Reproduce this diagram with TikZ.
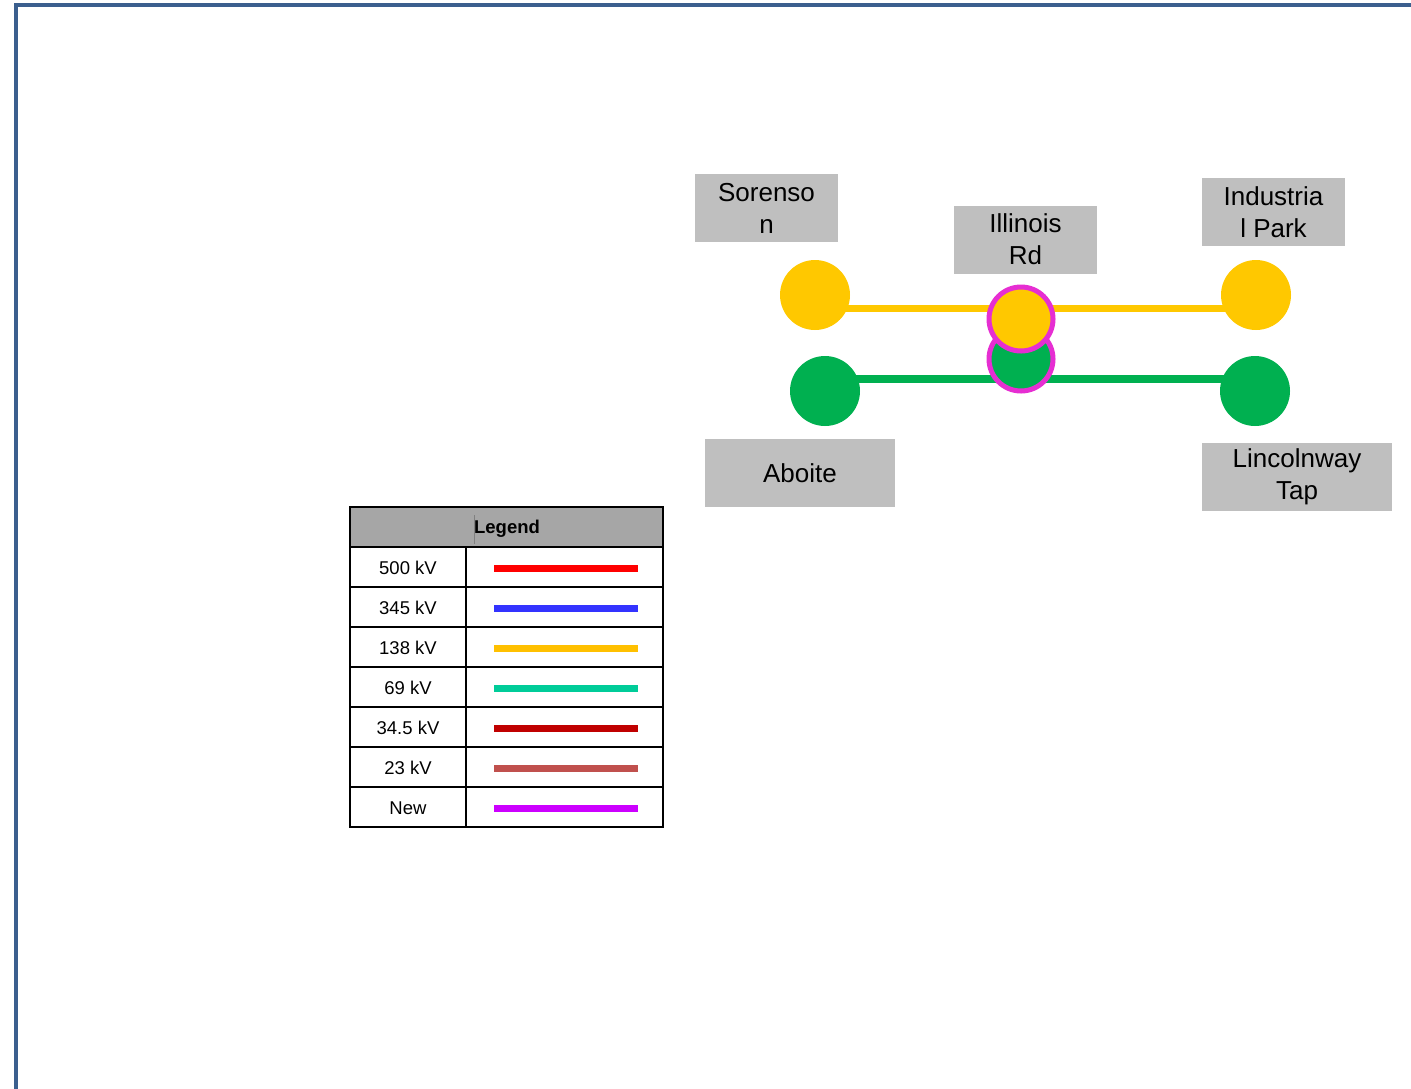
\documentclass[tikz,border=0pt]{standalone}
\usepackage{fontspec}
\setmainfont{Liberation Sans}
\usetikzlibrary{backgrounds}
\definecolor{frameblue}{HTML}{3B5F8E}
\definecolor{busyellow}{HTML}{FFC800}
\definecolor{busgreen}{HTML}{00B050}
\definecolor{newmag}{HTML}{E62ED2}
\definecolor{boxgray}{HTML}{BFBFBF}
\definecolor{headgray}{HTML}{A6A6A6}
\definecolor{kvA}{HTML}{FF0000}
\definecolor{kvB}{HTML}{3333FF}
\definecolor{kvC}{HTML}{FFC000}
\definecolor{kvD}{HTML}{00CC99}
\definecolor{kvE}{HTML}{C00000}
\definecolor{kvF}{HTML}{C0504D}
\definecolor{kvG}{HTML}{CC00FF}
\tikzset{
  sub/.style={circle, fill=#1, minimum size=70pt, inner sep=0pt},
  newsub/.style={circle, fill=#1, draw=newmag, line width=5pt, minimum size=64pt, inner sep=0pt},
  namebox/.style={fill=boxgray, minimum height=68pt, minimum width=143pt, inner sep=0pt,
    align=center, font=\fontsize{26}{32}\selectfont},
  feeder/.style={line width=7.5pt, #1},
  legtext/.style={font=\fontsize{18.5}{20}\selectfont, inner sep=0pt},
  legbar/.style={line width=7pt, #1},
}
\begin{document}
\begin{tikzpicture}[x=1pt,y=-1pt]
  \useasboundingbox (0,0) rectangle (1411,1088);
  % page frame
  \draw[frameblue, line width=4.5pt] (16,1095) -- (16,5) -- (1420,5);

  % substations
  \node[sub=busyellow] (sor) at (815,295) {};
  \node[sub=busyellow] (ind) at (1256,295) {};
  \node[sub=busgreen] (abo) at (825,391) {};
  \node[sub=busgreen] (lin) at (1255,391) {};
  \node[newsub=busgreen] (illG) at (1021,359) {};
  \node[newsub=busyellow] (illY) at (1021,319) {};

  % names
  \node[namebox] (sorName) at (766.5,208) {Sorenso\\n};
  \node[namebox] (illName) at (1025.5,239.5) {Illinois\\Rd};
  \node[namebox] (indName) at (1273.5,212) {Industria\\l Park};
  \node[namebox, minimum width=190pt] (aboName) at (800,473) {Aboite};
  \node[namebox, minimum width=190pt] (linName) at (1297,476.5) {Lincolnway\\Tap};

  % lines
  \begin{scope}[on background layer]
    \draw[feeder=busyellow] ([yshift=-13.5pt]sor.center) -- ([yshift=-13.5pt]ind.center);
    \draw[feeder=busgreen] ([yshift=12pt]abo.center) -- ([yshift=12pt]lin.center);
  \end{scope}

  % legend
  \fill[headgray] (350,507) rectangle (663,547);
  \node[legtext, font=\fontsize{18.5}{20}\selectfont\bfseries] (legHead) at (507,529) {Legend};
  \draw[gray, line width=0.8pt] (474,515) -- (474,544);
  \foreach \lbl/\col [count=\i] in {500 kV/kvA, 345 kV/kvB, 138 kV/kvC, 69 kV/kvD,
      34.5 kV/kvE, 23 kV/kvF, New/kvG} {
    \node[legtext] (leg\i) at (408,528+40*\i) {\lbl};
    \draw[legbar=\col] (494,528+40*\i) -- ++(144,0);
  }
  \draw[line width=2.5pt] (350,507) rectangle (663,827);
  \foreach \i in {1,...,7}
    \draw[line width=2.5pt] (350,507+40*\i) -- (663,507+40*\i);
  \draw[line width=2.5pt] (466,547) -- (466,827);
\end{tikzpicture}
\end{document}
